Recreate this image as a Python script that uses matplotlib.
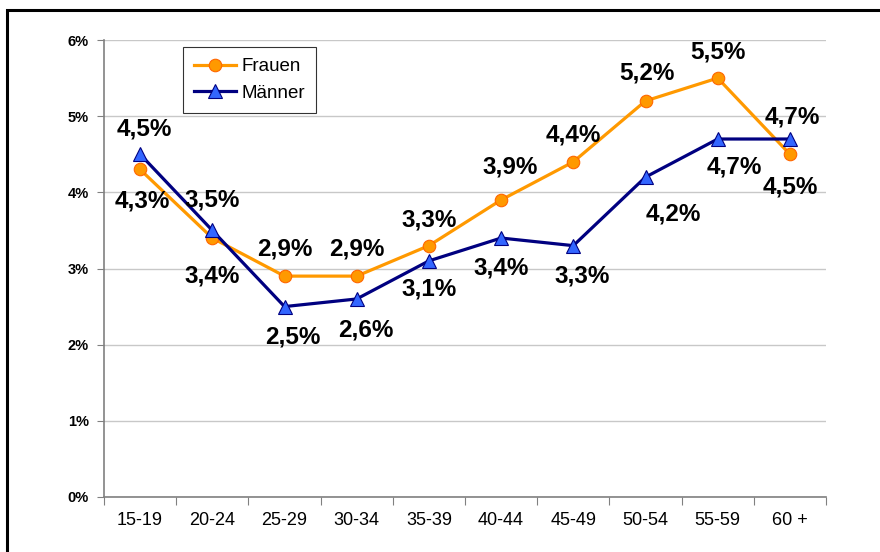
import matplotlib
matplotlib.use("Agg")
import matplotlib.pyplot as plt
from matplotlib.patches import Rectangle
from matplotlib.ticker import FuncFormatter

plt.rcParams['font.family'] = ['Liberation Sans', 'DejaVu Sans']

categories = ["15-19", "20-24", "25-29", "30-34", "35-39",
              "40-44", "45-49", "50-54", "55-59", "60 +"]
frauen = [4.3, 3.4, 2.9, 2.9, 3.3, 3.9, 4.4, 5.2, 5.5, 4.5]
maenner = [4.5, 3.5, 2.5, 2.6, 3.1, 3.4, 3.3, 4.2, 4.7, 4.7]

# label offsets in pixels (dx, dy up)
frauen_off = [(2, -32), (0, -38), (0, 27), (0, 27), (0, 26),
              (9, 33), (0, 27), (1, 28), (0, 26), (0, -33)]
maenner_off = [(4, 25), (0, 30), (8, -30), (9, -31), (0, -28),
               (0, -30), (9, -30), (28, -37), (17, -28), (2, 22)]

orange = "#FF9900"
navy = "#000080"

fig = plt.figure(figsize=(8.8, 5.52), dpi=100)
ax = fig.add_axes([104 / 880, 55 / 552, 722 / 880, 457 / 552])

x = list(range(len(categories)))

ax.plot(x, frauen, color=orange, linewidth=2.3, marker="o", markersize=9,
        markerfacecolor=orange, markeredgecolor="#FF6600", markeredgewidth=0.8,
        label="Frauen", zorder=3)
ax.plot(x, maenner, color=navy, linewidth=2.3, marker="^", markersize=10,
        markerfacecolor="#3366FF", markeredgecolor=navy, markeredgewidth=0.8,
        label="Männer", zorder=4)

for xi, v, off in zip(x, frauen, frauen_off):
    ax.annotate(f"{v:.1f}%".replace(".", ","), (xi, v), xytext=off,
                textcoords="offset pixels", ha="center", va="center",
                fontsize=17.5, fontweight="bold", zorder=5)
for xi, v, off in zip(x, maenner, maenner_off):
    ax.annotate(f"{v:.1f}%".replace(".", ","), (xi, v), xytext=off,
                textcoords="offset pixels", ha="center", va="center",
                fontsize=17.5, fontweight="bold", zorder=5)

ax.set_xlim(-0.5, len(categories) - 0.5)
ax.set_ylim(0, 6)
ax.set_yticks(range(0, 7))
ax.yaxis.set_major_formatter(FuncFormatter(lambda v, p: f"{int(v)}%"))
for lbl in ax.get_yticklabels():
    lbl.set_fontweight("bold")
ax.tick_params(axis="y", labelsize=10.5, length=5, color="#808080", pad=6)

ax.set_xticks([i - 0.5 for i in range(len(categories) + 1)])
ax.set_xticklabels([])
ax.set_xticks(x, minor=True)
ax.set_xticklabels(categories, minor=True)
ax.tick_params(axis="x", which="major", length=6, color="#808080")
ax.tick_params(axis="x", which="minor", length=0, labelsize=13, pad=11)

ax.grid(axis="y", color="#C8C8C8", linewidth=1)
ax.set_axisbelow(True)
for s in ["top", "right"]:
    ax.spines[s].set_visible(False)
for s in ["left", "bottom"]:
    ax.spines[s].set_color("#808080")
    ax.spines[s].set_linewidth(1.2)

leg = ax.legend(loc="upper left", bbox_to_anchor=(183 / 880, 1 - 47 / 552),
                bbox_transform=fig.transFigure, fontsize=13.5, frameon=True,
                fancybox=False, edgecolor="black", handlelength=2.2,
                borderpad=0.6, labelspacing=0.5, handletextpad=0.3,
                borderaxespad=0)
leg.get_frame().set_linewidth(0.8)

# outer frame: left and top edges only
fig.patches.append(Rectangle((7 / 880, -0.05), 1.0, 1.05 - 10 / 552,
                             transform=fig.transFigure, fill=False,
                             edgecolor="black", linewidth=2.2))

fig.savefig("out.png", dpi=100)
